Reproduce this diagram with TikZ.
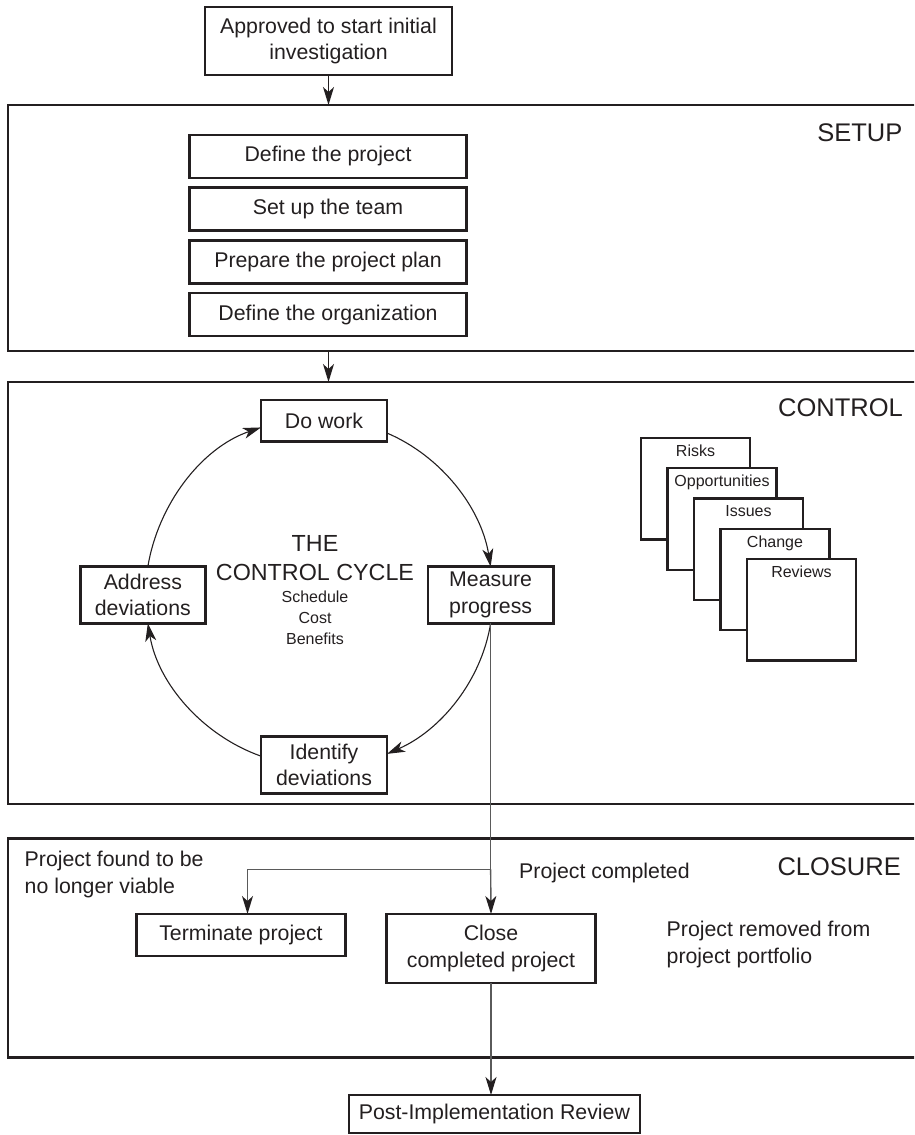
\documentclass[tikz,border=0pt]{standalone}
\usepackage{fontspec}
\setmainfont{Liberation Sans}
\usetikzlibrary{arrows.meta}
\definecolor{ink}{HTML}{231F20}
\definecolor{wire}{HTML}{5A5A5A}

\begin{document}
\begin{tikzpicture}[x=1pt,y=1pt,
  every node/.style={text=ink},
  frame/.style={draw=ink, line width=2.9pt, inner sep=0pt, outer sep=0pt, minimum width=922pt},
  taskbox/.style={draw=ink, line width=2.5pt, inner sep=0pt, outer sep=0pt, align=center,
    font=\fontsize{21.3}{26.6}\selectfont},
  card/.style={draw=ink, fill=white, line width=2.2pt, inner sep=0pt, outer sep=0pt,
    minimum width=109pt, minimum height=101.5pt},
  phase/.style={font=\fontsize{25.5}{30}\selectfont, anchor=base east, inner sep=0pt},
  note/.style={font=\fontsize{21.3}{26.6}\selectfont, anchor=base west, inner sep=0pt},
  title/.style={font=\fontsize{23.3}{28}\selectfont, anchor=base, inner sep=0pt},
  small/.style={font=\fontsize{16}{19}\selectfont, anchor=base, inner sep=0pt},
  headed/.style={-{Stealth[length=18pt,width=11pt,inset=5pt,color=ink]}},
  flow/.style={headed, draw=ink, line width=1.3pt},
  loop/.style={headed, draw=ink, line width=1.1pt, looseness=0.9},
  feed/.style={draw=wire, line width=1.4pt},
]
\useasboundingbox (0,0) rectangle (914,-1135);
\clip (0,0) rectangle (914,-1135);

% entry point
\node[taskbox, minimum width=247pt, minimum height=68pt] (approved) at (328.5,-41)
  {Approved to start initial\\investigation};

% ---------- SETUP ----------
\node[frame, minimum height=246pt] (setup) at (469,-228) {};
\node[phase] (setuplabel) at (902.6,-141.7) {SETUP};
\node[taskbox, minimum width=277pt, minimum height=43pt] (define) at (328,-156.4) {Define the project};
\node[taskbox, minimum width=277pt, minimum height=43pt] (team) at (328,-208.8) {Set up the team};
\node[taskbox, minimum width=277pt, minimum height=43pt] (plan) at (328,-261.8) {Prepare the project plan};
\node[taskbox, minimum width=277pt, minimum height=43pt] (org) at (328,-314.5) {Define the organization};

% ---------- CONTROL ----------
\node[frame, minimum height=422pt] (control) at (469,-593) {};
\node[phase] (controllabel) at (903,-416.7) {CONTROL};

\node[taskbox, minimum width=126pt, minimum height=41.7pt] (dowork) at (324,-420.8) {Do work};
\node[taskbox, minimum width=125.7pt, minimum height=56.6pt] (measure) at (490.65,-595) {Measure\\progress};
\node[taskbox, minimum width=126pt, minimum height=56.6pt] (identify) at (324,-765) {Identify\\deviations};
\node[taskbox, minimum width=125pt, minimum height=56.6pt] (address) at (142.85,-595) {Address\\deviations};

\node[title] (cyclethe) at (315,-551.7) {THE};
\node[title] (cyclename) at (315,-580) {CONTROL CYCLE};
\node[small] (schedule) at (315,-602.7) {Schedule};
\node[small] (cost) at (315,-623.3) {Cost};
\node[small] (benefits) at (315,-644.3) {Benefits};

\draw[loop] (dowork.-11) to[out=-23.1, in=99.2] (measure.north);
\draw[loop] (measure.south) to[out=-99.2, in=23.7] (identify.10);
\draw[loop] (identify.172) to[out=160.5, in=-80.6] (address.-80);
\draw[loop] (address.80) to[out=80.6, in=198.9] (dowork.186);

% stacked registers
\foreach \name/\label [count=\i from 0] in {risks/Risks, opps/Opportunities, issues/Issues, change/Change, reviews/Reviews} {
  \node[card] (\name) at ({641+26.5*\i+54.5},{-(438+30.25*\i+50.75)}) {};
  \node[small] (\name-label) at ([yshift=-18.3pt]\name.north) {\label};
}

% ---------- CLOSURE ----------
\node[frame, minimum height=219pt] (closure) at (469,-947.8) {};
\node[phase] (closurelabel) at (901,-875) {CLOSURE};

\node[note] (found1) at (24.5,-866.7) {Project found to be};
\node[note] (found2) at (24.5,-893.3) {no longer viable};
\node[note] (completed) at (519,-878.3) {Project completed};
\node[note] (removed1) at (666.5,-936.7) {Project removed from};
\node[note] (removed2) at (666.5,-963.3) {project portfolio};

\node[taskbox, minimum width=209pt, minimum height=42pt] (terminate) at (241,-935) {Terminate project};
\node[taskbox, minimum width=209pt, minimum height=69pt] (close) at (491,-948.5) {Close\\completed project};

\node[taskbox, minimum width=291pt, minimum height=38pt] (review) at (494.4,-1114) {Post-Implementation Review};

% connectors between phases
\draw[flow] (approved.south) -- (approved.south |- setup.north);
\draw[flow] (approved.south |- setup.south) -- (approved.south |- control.north);

\coordinate (junction) at (measure.south |- 0,-869.3);
\draw[feed] (measure.south) -- (junction);
\draw[feed, headed] (junction) -- (close.north);
\draw[feed, headed] (junction) -| ([xshift=6.5pt]terminate.north);
\draw[feed, headed] (close.south) -- (close.south |- review.north);

\end{tikzpicture}
\end{document}
